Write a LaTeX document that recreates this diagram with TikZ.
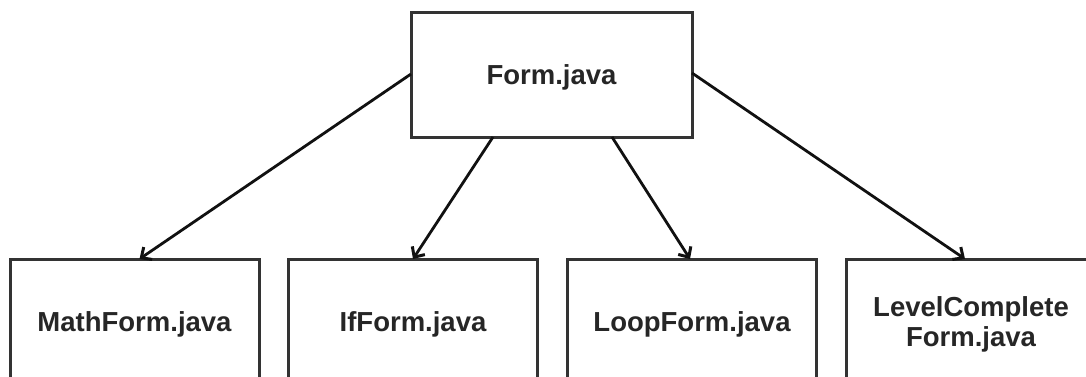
\documentclass[tikz,border=0pt]{standalone}
\usepackage{fontspec}
\setmainfont{Liberation Sans}
\usetikzlibrary{arrows.meta}
\definecolor{boxline}{HTML}{333333}
\definecolor{arrowline}{HTML}{111111}
\tikzset{
  filebox/.style={draw=boxline, line width=3pt, fill=white, inner sep=0pt, outer sep=0pt,
    minimum width=249pt, minimum height=125pt, align=center, text depth=0pt,
    font=\fontsize{27.5}{30.5}\selectfont\bfseries, text=black!85},
  link/.style={draw=arrowline, line width=2.8pt,
    -{Straight Barb[length=8pt,width=15pt,line width=3pt]}}
}
\begin{document}
\begin{tikzpicture}[x=1pt,y=-1pt]
  \useasboundingbox (0,0) rectangle (1086,377);
  \clip (0,0) rectangle (1086,377);
  % parent class
  \node[filebox, minimum width=281pt, minimum height=124pt] (form) at (551.5,75) {Form.java};
  % subclasses
  \node[filebox] (math) at (134.5,321.5) {MathForm.java};
  \node[filebox] (if)   at (413,321.5)   {IfForm.java};
  \node[filebox] (loop) at (692,321.5)   {LoopForm.java};
  \node[filebox] (lvl)  at (971,321.5)   {LevelComplete\\Form.java};
  % inheritance links
  \draw[link] ([yshift=1pt]form.west) -- ([xshift=5pt]math.north);
  \draw[link] ([xshift=-58.5pt]form.south) -- (if.north);
  \draw[link] ([xshift=60.5pt]form.south) -- ([xshift=-2pt]loop.north);
  \draw[link] ([yshift=2pt]form.east) -- ([xshift=-6pt]lvl.north);
\end{tikzpicture}
\end{document}
